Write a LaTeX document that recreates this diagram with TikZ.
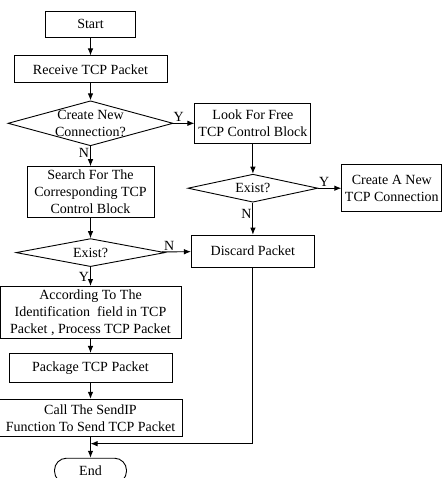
\documentclass[tikz,border=0pt]{standalone}
\usepackage{fontspec}
\setmainfont{Liberation Serif}
\usetikzlibrary{shapes.geometric,positioning,calc,arrows.meta}

\begin{document}
\begin{tikzpicture}[
    font=\fontsize{14}{17}\selectfont,
    box/.style={rectangle,draw,line width=0.9pt,align=center,inner sep=0pt},
    decision/.style={diamond,draw,line width=0.9pt,align=center,aspect=4,
      inner xsep=0pt,inner ysep=-4pt},
    flow/.style={-{Latex[length=7pt,width=5.5pt]},line width=0.9pt},
    lbl/.style={inner sep=1pt}]
  \useasboundingbox (0,0) rectangle (442pt,-478pt);

  \node[box,minimum width=90pt,minimum height=26pt] (start) at (90.5pt,-24pt) {Start};
  \node[box,minimum width=153pt,minimum height=27pt,below=18pt of start] (receive) {Receive TCP Packet};
  \node[decision,minimum width=165pt,minimum height=45pt,below=17pt of receive] (newconn) {Create New\\Connection?};
  \node[box,minimum width=127pt,minimum height=51pt,below=20pt of newconn] (search) {Search For The\\Corresponding TCP\\Control Block};
  \node[decision,minimum width=149pt,minimum height=28pt,below=20pt of search] (exist) {Exist?};
  \node[box,minimum width=181pt,minimum height=52pt,below=19pt of exist] (process) {According To The\\Identification\ \ field in TCP\\Packet , Process TCP Packet};
  \node[box,minimum width=163pt,minimum height=29pt,below=14pt of process] (package) {Package TCP Packet};
  \node[box,minimum width=183pt,minimum height=37pt,below=16pt of package] (send) {Call The SendIP\\Function To Send TCP Packet};
  \node[box,rounded corners=12pt,minimum width=72pt,minimum height=25pt,below=21pt of send] (end) {End};

  \node[box,minimum width=116pt,minimum height=40pt,right=21pt of newconn] (free) {Look For Free\\TCP Control Block};
  \node[decision,minimum width=130pt,minimum height=28pt,below=30pt of free] (freeexist) {Exist?};
  \node[box,minimum width=100pt,minimum height=47pt,right=23pt of freeexist] (create) {Create A New\\TCP Connection};
  \node[box,minimum width=123pt,minimum height=32pt,below=32pt of freeexist] (discard) {Discard Packet};

  \coordinate (join) at ($(send.south)!0.33!(end.north)$);

  \draw[flow] (start) -- (receive);
  \draw[flow] (receive) -- (newconn);
  \draw[flow] (newconn) -- node[lbl,pos=0.35,left] {N} (search);
  \draw[flow] (newconn) -- node[lbl,pos=0.25,above] {Y} (free);
  \draw[flow] (free) -- (freeexist);
  \draw[flow] (freeexist) -- node[lbl,pos=0.25,above] {Y} (create);
  \draw[flow] (freeexist) -- node[lbl,pos=0.35,left] {N} (discard);
  \draw[flow] (search) -- (exist);
  \draw[flow] (exist) -- node[lbl,pos=0.25,above] {N} (discard);
  \draw[flow] (exist) -- node[lbl,midway,left] {Y} (process);
  \draw[flow] (process) -- (package);
  \draw[flow] (package) -- (send);
  \draw[flow] (send) -- (end);
  \draw[flow] (discard) |- (join);
\end{tikzpicture}
\end{document}
